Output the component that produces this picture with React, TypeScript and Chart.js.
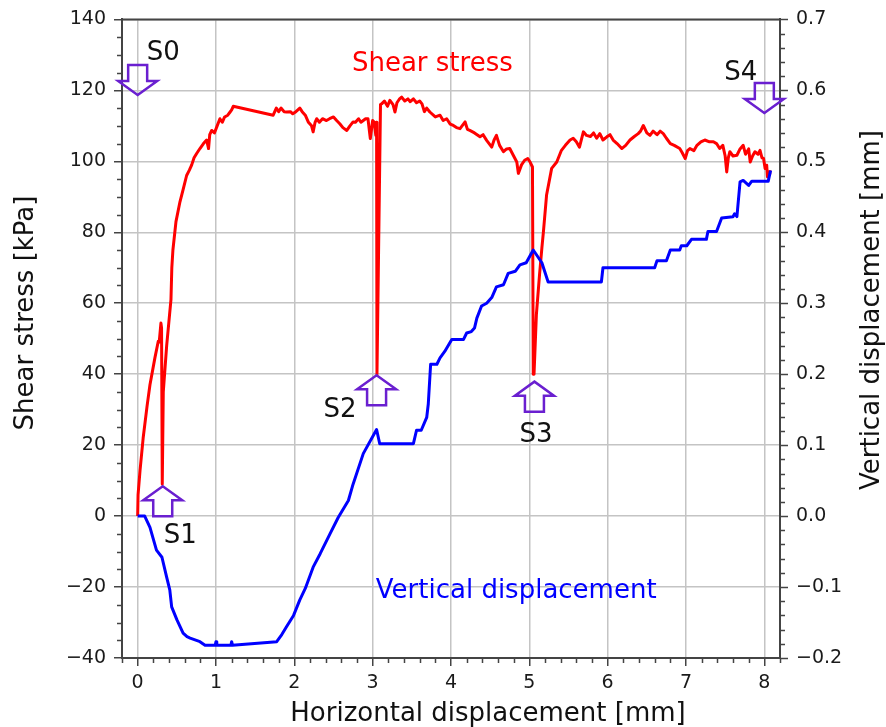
import React, { useEffect, useRef } from 'react';
import { Chart, registerables } from 'chart.js';

Chart.register(...registerables);

// ---------- data ----------
const xTicks = [0, 1, 2, 3, 4, 5, 6, 7, 8];
const yLeftTicks = [-40, -20, 0, 20, 40, 60, 80, 100, 120, 140];
const yRightTicks = [-0.2, -0.1, 0, 0.1, 0.2, 0.3, 0.4, 0.5, 0.6, 0.7];

// Shear stress [kPa] vs horizontal displacement [mm]
const xShear = [
  0, 0.005, 0.03, 0.07, 0.12, 0.157, 0.22, 0.263, 0.275, 0.297,
  0.305, 0.314, 0.327, 0.37, 0.425, 0.436, 0.45, 0.489, 0.54, 0.58,
  0.625, 0.66, 0.69, 0.72, 0.753, 0.795, 0.84, 0.88, 0.905, 0.92,
  0.945, 0.98, 1.01, 1.05, 1.08, 1.11, 1.15, 1.18, 1.2, 1.22,
  1.73, 1.77, 1.8, 1.83, 1.87, 1.9, 1.95, 1.98, 2.02, 2.07,
  2.1, 2.14, 2.18, 2.22, 2.24, 2.265, 2.285, 2.32, 2.36, 2.41,
  2.45, 2.5, 2.54, 2.58, 2.62, 2.67, 2.71, 2.75, 2.78, 2.82,
  2.85, 2.88, 2.91, 2.94, 2.97, 3.0, 3.02, 3.04, 3.05, 3.055,
  3.1, 3.115, 3.15, 3.19, 3.22, 3.26, 3.285, 3.31, 3.34, 3.37,
  3.41, 3.45, 3.48, 3.52, 3.56, 3.6, 3.63, 3.66, 3.69, 3.73,
  3.8, 3.86, 3.9, 3.945, 3.99, 4.03, 4.07, 4.115, 4.18, 4.21,
  4.24, 4.3, 4.37, 4.41, 4.455, 4.52, 4.55, 4.58, 4.62, 4.67,
  4.71, 4.75, 4.8, 4.84, 4.86, 4.9, 4.94, 4.98, 5.01, 5.04,
  5.05, 5.06, 5.09, 5.13, 5.16, 5.18, 5.22, 5.285, 5.35, 5.41,
  5.46, 5.52, 5.56, 5.6, 5.64, 5.69, 5.73, 5.78, 5.82, 5.86,
  5.9, 5.94, 5.99, 6.03, 6.07, 6.12, 6.18, 6.23, 6.285, 6.34,
  6.39, 6.42, 6.455, 6.5, 6.54, 6.58, 6.63, 6.67, 6.71, 6.75,
  6.8, 6.85, 6.92, 6.95, 6.99, 7.02, 7.05, 7.1, 7.14, 7.19,
  7.24, 7.3, 7.35, 7.39, 7.43, 7.47, 7.5, 7.52, 7.54, 7.56,
  7.6, 7.65, 7.69, 7.73, 7.76, 7.8, 7.82, 7.85, 7.88, 7.92,
  7.945, 7.97, 7.99, 8.01, 8.03, 8.04, 8.06, 8.07,
];
const yShear = [
  0, 6, 12.8, 22, 31, 37, 44.6, 49.3, 49, 54.4,
  53, 9, 35, 48, 61, 70, 75, 83, 88.6, 92,
  96, 97.5, 99, 101, 102.2, 103.6, 105, 106, 103.6, 107.5,
  108.7, 108, 109.7, 112, 111, 112.5, 113, 113.9, 114.5, 115.5,
  113, 115, 114, 115, 114, 113.9, 114, 113.4, 114, 115,
  114, 113, 111, 110, 108.3, 111, 112, 111, 112, 111.5,
  112, 112.5, 111.5, 110.6, 109.5, 108.7, 110, 111.1, 111, 112,
  111, 111.5, 112, 112, 106.4, 111.5, 111, 107.3, 111, 40,
  116, 116.2, 117, 115.5, 117.2, 116, 113.9, 116.5, 117.5, 118.1,
  117, 117.6, 116.8, 117.6, 116.5, 117, 116.2, 114, 115, 113.9,
  112.5, 113, 111.5, 112, 110.5, 110.1, 109.5, 109.2, 111.1, 109,
  108.7, 108, 106.9, 107.5, 105.9, 104, 106, 107.3, 104.5, 102.7,
  103.5, 103.6, 101.5, 99.8, 96.6, 99, 100.3, 100.8, 99.8, 98.4,
  40, 40, 56.8, 68, 75.5, 80.2, 90.5, 98, 99.8, 103.1,
  104.5, 106, 106.5, 105.5, 104, 108.3, 107.3, 107, 108, 106.5,
  107.8, 106, 106.9, 107.5, 106, 105, 103.6, 104.5, 106, 107,
  107.8, 108.5, 110.1, 108, 107.3, 108.5, 107.5, 108.5, 107.8, 106.5,
  105, 104.5, 103.6, 102.5, 100.8, 103, 103.6, 103, 104.5, 105.5,
  106, 105.5, 105.5, 105, 103.6, 104.5, 101.5, 97, 101, 102.7,
  101.5, 101.7, 103.5, 104.5, 102, 103.5, 99.8, 101.5, 102.7, 102,
  103.1, 101, 100.8, 98, 98.9, 95.6, 96.5, 97.5,
];

// Vertical displacement [mm] vs horizontal displacement [mm]
const xVert = [
  0, 0.09, 0.157, 0.24, 0.31, 0.37, 0.41, 0.434, 0.5, 0.58,
  0.63, 0.67, 0.795, 0.86, 0.99, 1.0, 1.01, 1.19, 1.2, 1.21,
  1.775, 1.84, 1.9, 1.99, 2.07, 2.14, 2.24, 2.33, 2.455, 2.56,
  2.69, 2.75, 2.88, 3.05, 3.09, 3.52, 3.56, 3.62, 3.69, 3.71,
  3.74, 3.82, 3.86, 3.92, 4.01, 4.16, 4.2, 4.26, 4.3, 4.33,
  4.39, 4.455, 4.52, 4.58, 4.67, 4.73, 4.82, 4.88, 4.96, 5.05,
  5.16, 5.24, 5.92, 5.94, 6.6, 6.63, 6.75, 6.8, 6.92, 6.94,
  7.01, 7.07, 7.26, 7.28, 7.39, 7.455, 7.6, 7.62, 7.65, 7.69,
  7.73, 7.8, 7.84, 8.05, 8.08,
];
const yVert = [
  0, 0, -0.016, -0.048, -0.058, -0.086, -0.104, -0.128, -0.146, -0.165,
  -0.17, -0.172, -0.177, -0.182, -0.182, -0.177, -0.182, -0.182, -0.177, -0.182,
  -0.177, -0.167, -0.156, -0.14, -0.118, -0.102, -0.072, -0.053, -0.025, -0.002,
  0.022, 0.045, 0.088, 0.122, 0.102, 0.102, 0.121, 0.121, 0.139, 0.158,
  0.214, 0.214, 0.223, 0.232, 0.249, 0.249, 0.258, 0.26, 0.265, 0.279,
  0.296, 0.3, 0.308, 0.323, 0.326, 0.342, 0.345, 0.354, 0.357, 0.375,
  0.357, 0.33, 0.33, 0.35, 0.35, 0.36, 0.36, 0.375, 0.375, 0.381,
  0.381, 0.39, 0.39, 0.401, 0.401, 0.42, 0.422, 0.426, 0.422, 0.471,
  0.473, 0.466, 0.472, 0.472, 0.487,
];

// Stage markers (arrow tip in data coordinates, shear-stress axis)
const stageLabels = ['S0', 'S1', 'S2', 'S3', 'S4'];
const stageX = [0.0, 0.32, 3.05, 5.065, 8.0];
const stageY = [118.7, 8.4, 39.7, 37.9, 113.6];
const stageDir = ['down', 'up', 'up', 'up', 'down'];

// ---------- style ----------
const FONT = "'DejaVu Sans', Verdana, sans-serif";
const AXIS = '#444444';
const GRID = '#c4c4c4';
const PURPLE = '#6a1fd0';
const RED = '#ff0000';
const BLUE = '#0000ff';
const stageLabelOffset = [
  [9, -35],
  [1, 57],
  [-53, 42],
  [-15, 60],
  [-40, -33],
];

const minusFmt = (s: string) => s.replace('-', '\u2212');

export default function App() {
  const ref = useRef<HTMLCanvasElement>(null);

  useEffect(() => {
    const canvas = ref.current;
    if (!canvas) return;

    const decor = {
      id: 'decor',
      afterDatasetsDraw(chart: any) {
        const ctx = chart.ctx;
        const xs = chart.scales.x;
        const ys = chart.scales.y;
        const y1 = chart.scales.y1;
        ctx.save();
        // series labels
        ctx.font = `26px ${FONT}`;
        ctx.textBaseline = 'alphabetic';
        ctx.textAlign = 'left';
        ctx.fillStyle = RED;
        ctx.fillText('Shear stress', xs.getPixelForValue(2.735), ys.getPixelForValue(125.4));
        ctx.fillStyle = BLUE;
        ctx.fillText('Vertical displacement', xs.getPixelForValue(3.04), y1.getPixelForValue(-0.116));

        // stage arrows
        ctx.strokeStyle = PURPLE;
        ctx.lineWidth = 2.5;
        ctx.lineJoin = 'miter';
        for (let i = 0; i < stageLabels.length; i++) {
          const tx = xs.getPixelForValue(stageX[i]);
          const ty = ys.getPixelForValue(stageY[i]);
          const s = stageDir[i] === 'down' ? -1 : 1;
          const hw = 19.5, sw = 9.5, hl = 14, len = 30;
          ctx.beginPath();
          ctx.moveTo(tx, ty);
          ctx.lineTo(tx + hw, ty + s * hl);
          ctx.lineTo(tx + sw, ty + s * hl);
          ctx.lineTo(tx + sw, ty + s * len);
          ctx.lineTo(tx - sw, ty + s * len);
          ctx.lineTo(tx - sw, ty + s * hl);
          ctx.lineTo(tx - hw, ty + s * hl);
          ctx.closePath();
          ctx.stroke();
          ctx.fillStyle = '#111111';
          ctx.font = `26px ${FONT}`;
          ctx.fillText(stageLabels[i], tx + stageLabelOffset[i][0], ty + stageLabelOffset[i][1]);
        }
        ctx.restore();
      },
      afterDraw(chart: any) {
        const ctx = chart.ctx;
        const { left, right, top, bottom } = chart.chartArea;
        const xs = chart.scales.x;
        const ys = chart.scales.y;
        const y1 = chart.scales.y1;
        ctx.save();
        ctx.strokeStyle = AXIS;
        ctx.lineWidth = 1.5;
        ctx.beginPath();
        for (let i = -1; i <= 41; i++) {
          if (i % 5 === 0) continue;
          const px = Math.round(xs.getPixelForValue(i * 0.2)) + 0.5;
          ctx.moveTo(px, bottom);
          ctx.lineTo(px, bottom + 5);
        }
        for (let i = -8; i <= 28; i++) {
          if (i % 4 === 0) continue;
          const py = Math.round(ys.getPixelForValue(i * 5)) + 0.5;
          ctx.moveTo(left - 5, py);
          ctx.lineTo(left, py);
        }
        for (let i = -10; i <= 35; i++) {
          if (i % 5 === 0) continue;
          const py = Math.round(y1.getPixelForValue(i * 0.02)) + 0.5;
          ctx.moveTo(right, py);
          ctx.lineTo(right + 5, py);
        }
        ctx.stroke();
        // top frame
        ctx.lineWidth = 2;
        ctx.beginPath();
        ctx.moveTo(left - 1, top);
        ctx.lineTo(right + 1, top);
        ctx.stroke();

        // axis titles
        ctx.fillStyle = '#111111';
        ctx.font = `26px ${FONT}`;
        ctx.textAlign = 'center';
        ctx.textBaseline = 'alphabetic';
        ctx.fillText('Horizontal displacement [mm]', 488, 721);
        ctx.save();
        ctx.translate(33, 313);
        ctx.rotate(-Math.PI / 2);
        ctx.fillText('Shear stress [kPa]', 0, 0);
        ctx.restore();
        ctx.save();
        ctx.translate(879, 310);
        ctx.rotate(-Math.PI / 2);
        ctx.fillText('Vertical displacement [mm]', 0, 0);
        ctx.restore();
        ctx.restore();
      },
    };

    const tickFont = { family: FONT, size: 19 };

    const chart = new Chart(canvas, {
      type: 'line',
      data: {
        datasets: [
          {
            label: 'Vertical displacement',
            data: xVert.map((x, i) => ({ x, y: yVert[i] })),
            yAxisID: 'y1',
            borderColor: BLUE,
            borderWidth: 3,
            borderJoinStyle: 'round',
            pointRadius: 0,
            tension: 0,
            fill: false,
            order: 0,
          },
          {
            label: 'Shear stress',
            data: xShear.map((x, i) => ({ x, y: yShear[i] })),
            yAxisID: 'y',
            borderColor: RED,
            borderWidth: 3,
            borderJoinStyle: 'round',
            pointRadius: 0,
            tension: 0,
            fill: false,
            order: 1,
          },
        ],
      },
      options: {
        responsive: false,
        animation: false,
        events: [],
        layout: { padding: { top: 17, left: 0, right: 0, bottom: 0 } },
        plugins: { legend: { display: false }, tooltip: { enabled: false } },
        scales: {
          x: {
            type: 'linear',
            position: 'bottom',
            min: -0.2,
            max: 8.2,
            afterBuildTicks: (s: any) => { s.ticks = xTicks.map((v) => ({ value: v })); },
            afterFit: (s: any) => { s.height = 69; },
            grid: { color: GRID, lineWidth: 1.5, drawTicks: true, tickLength: 8, tickColor: AXIS, tickWidth: 1.5 },
            border: { color: AXIS, width: 2 },
            ticks: { font: tickFont, color: '#1a1a1a', padding: 6, maxRotation: 0, autoSkip: false, callback: (v: any) => minusFmt(String(v)) },
          },
          y: {
            type: 'linear',
            position: 'left',
            min: -40,
            max: 140,
            afterBuildTicks: (s: any) => { s.ticks = yLeftTicks.map((v) => ({ value: v })); },
            afterFit: (s: any) => { s.width = 122; },
            grid: { color: GRID, lineWidth: 1.5, drawTicks: true, tickLength: 8, tickColor: AXIS, tickWidth: 1.5 },
            border: { color: AXIS, width: 2 },
            ticks: { font: tickFont, color: '#1a1a1a', padding: 8, autoSkip: false, callback: (v: any) => minusFmt(String(v)) },
          },
          y1: {
            type: 'linear',
            position: 'right',
            min: -0.2,
            max: 0.7,
            afterBuildTicks: (s: any) => { s.ticks = yRightTicks.map((v) => ({ value: v })); },
            afterFit: (s: any) => { s.width = 106; },
            grid: { drawOnChartArea: false, drawTicks: true, tickLength: 8, tickColor: AXIS, tickWidth: 1.5 },
            border: { color: AXIS, width: 2 },
            ticks: { font: tickFont, color: '#1a1a1a', padding: 8, autoSkip: false, callback: (v: any) => minusFmt(Number(v).toFixed(1)) },
          },
        },
      },
      plugins: [decor],
    } as any);

    return () => chart.destroy();
  }, []);

  return (
    <div style={{ position: 'fixed', left: 0, top: 0, width: 886, height: 727, background: '#ffffff' }}>
      <canvas ref={ref} width={886} height={727} style={{ display: 'block' }} />
    </div>
  );
}
